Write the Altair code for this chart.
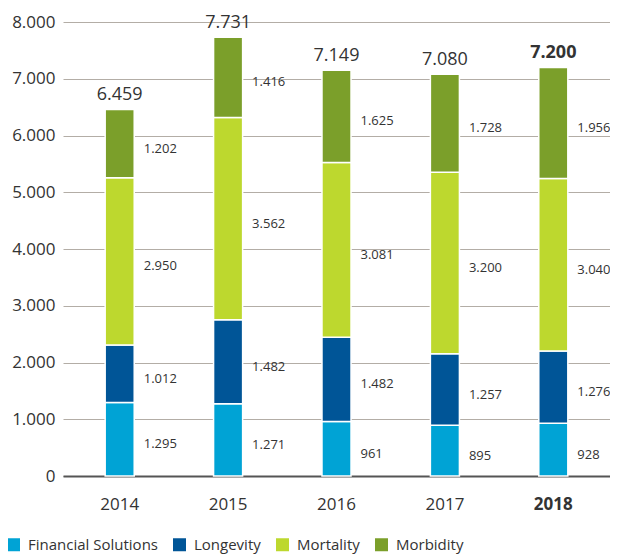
import altair as alt
import pandas as pd

years = ["2014", "2015", "2016", "2017", "2018"]
series = ["Financial Solutions", "Longevity", "Mortality", "Morbidity"]
financial_solutions = [1295, 1271, 961, 895, 928]
longevity = [1012, 1482, 1482, 1257, 1276]
mortality = [2950, 3562, 3081, 3200, 3040]
morbidity = [1202, 1416, 1625, 1728, 1956]
totals = [6459, 7731, 7149, 7080, 7200]
colors = ["#00A3D5", "#005597", "#BDD82E", "#7B9F2A"]


def fmt(v):
    return f"{v:,}".replace(",", ".")


rows = []
vals = {s: v for s, v in zip(series, [financial_solutions, longevity, mortality, morbidity])}
for i, y in enumerate(years):
    base = 0
    for k, s in enumerate(series):
        v = vals[s][i]
        rows.append({"year": y, "series": s, "order": k, "y0": base, "y1": base + v,
                     "mid": base + v / 2, "label": fmt(v)})
        base += v
df = pd.DataFrame(rows)
tot = pd.DataFrame({"year": years, "total": totals, "label": [fmt(t) for t in totals]})

FONT = "Open Sans"
TXT = "#333333"
xscale = alt.Scale(paddingInner=0.732, paddingOuter=0.389)
yscale = alt.Scale(domain=[0, 8000])

xenc = alt.X("year:N", sort=years, title=None, scale=xscale,
             axis=alt.Axis(labelAngle=0, ticks=False, grid=False, domain=True,
                           domainColor="#555555", domainWidth=2, labelPadding=20,
                           labelFontSize=17, labelColor=TXT, labelFont=FONT,
                           labelFontWeight=alt.expr("datum.value == '2018' ? 'bold' : 'normal'")))

bars = alt.Chart(df).mark_bar(stroke="white", strokeWidth=1.5).encode(
    x=xenc,
    y=alt.Y("y0:Q", title=None, scale=yscale,
            axis=alt.Axis(values=list(range(0, 8001, 1000)), ticks=False, domain=False,
                          labelPadding=8, labelFontSize=17, labelColor=TXT, labelFont=FONT,
                          gridColor="#b3ada6", gridWidth=1,
                          labelExpr="replace(format(datum.value, ','), ',', '.')")),
    y2="y1:Q",
    color=alt.Color("series:N", sort=series, scale=alt.Scale(domain=series, range=colors),
                    legend=alt.Legend(title=None, orient="none", direction="horizontal",
                                      legendX=-57, legendY=515, symbolType="square",
                                      symbolSize=169, symbolStrokeWidth=0, labelFontSize=15,
                                      labelFont=FONT, labelColor=TXT, columnPadding=14,
                                      labelOffset=7)),
    order=alt.Order("order:Q"),
)

seg_labels = alt.Chart(df).mark_text(align="left", baseline="middle", dx=24, dy=5,
                                      fontSize=13, font=FONT, color=TXT).encode(
    x=alt.X("year:N", sort=years, scale=xscale),
    y=alt.Y("mid:Q", scale=yscale),
    text="label:N",
)

tot_normal = alt.Chart(tot).transform_filter("datum.year != '2018'").mark_text(
    baseline="alphabetic", dy=-9, fontSize=18, font=FONT, color=TXT).encode(
    x=alt.X("year:N", sort=years, scale=xscale),
    y=alt.Y("total:Q", scale=yscale), text="label:N")

tot_bold = alt.Chart(tot).transform_filter("datum.year == '2018'").mark_text(
    baseline="alphabetic", dy=-9, fontSize=18, font=FONT, fontWeight="bold", color=TXT).encode(
    x=alt.X("year:N", sort=years, scale=xscale),
    y=alt.Y("total:Q", scale=yscale), text="label:N")

chart = alt.layer(bars, seg_labels, tot_normal, tot_bold).properties(
    width=547, height=454,
    background="white",
    autosize=alt.AutoSizeParams(type="none"),
    padding={"left": 55, "top": 14, "right": 0, "bottom": 86},
).configure_view(strokeWidth=0)

chart.save("out.html", embed_options={"renderer": "svg", "actions": False})
